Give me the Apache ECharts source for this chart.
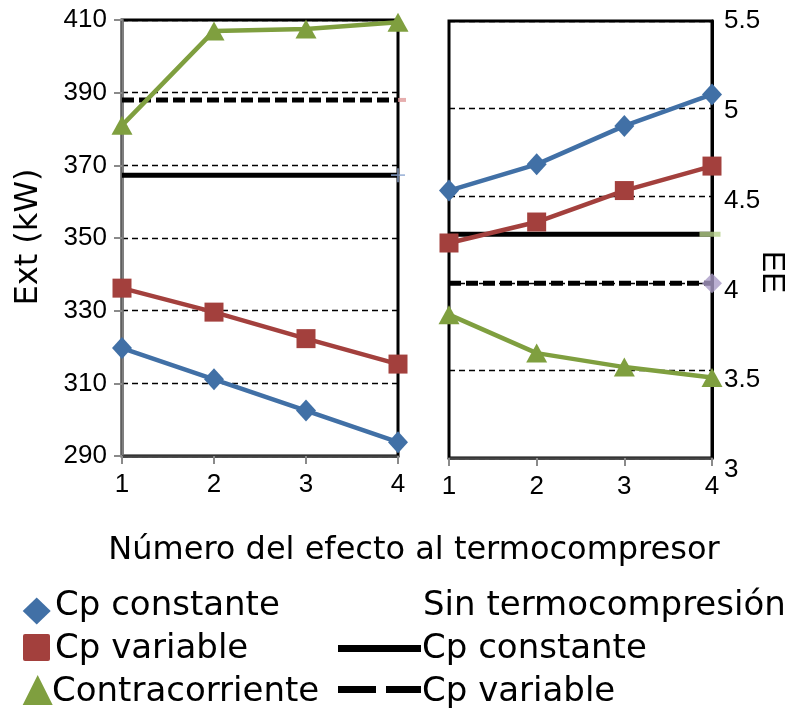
<!DOCTYPE html>
<html>
<head>
<meta charset="utf-8">
<script src="https://cdn.jsdelivr.net/npm/echarts@6/dist/echarts.min.js"></script>
<style>
html,body{margin:0;padding:0;background:#fff;}
#chart{width:803px;height:715px;}
</style>
</head>
<body>
<div id="chart"></div>
<script>
// ---- data ----
const categories = ['1', '2', '3', '4'];
const extTicks = [290, 310, 330, 350, 370, 390, 410];
const eeTicks = [3, 3.5, 4, 4.5, 5, 5.5];

const extCpConstante = [319.7, 311.1, 302.5, 293.8];
const extCpVariable = [336.2, 329.6, 322.3, 315.3];
const extContracorriente = [381, 407, 407.5, 409.4];
const extSinTermoCpConstante = [367.3, 367.3, 367.3, 367.3];
const extSinTermoCpVariable = [388, 388, 388, 388];

const eeCpConstante = [4.53, 4.68, 4.90, 5.08];
const eeCpVariable = [4.23, 4.35, 4.53, 4.67];
const eeContracorriente = [3.82, 3.60, 3.52, 3.46];
const eeSinTermoCpConstante = [4.28, 4.28, 4.28, 4.28];
const eeSinTermoCpVariable = [4.0, 4.0, 4.0, 4.0];

const seriesNames = ['Cp constante', 'Cp variable', 'Contracorriente'];
const refHeader = 'Sin termocompresión';
const refNames = ['Cp constante', 'Cp variable'];
const xTitle = 'Número del efecto al termocompresor';
const yLeftTitle = 'Ext (kW)';
const yRightTitle = 'EE';

// ---- styles ----
const BLUE = '#4170a6', RED = '#a3403d', GREEN = '#7f9f3f';
const tickFont = { fontFamily: 'Liberation Sans', fontSize: 26, color: '#000' };
const bigFont = '"DejaVu Sans"';

const chart = echarts.init(document.getElementById('chart'), null, { renderer: 'canvas' });

function xAxisCfg(gridIndex) {
  return {
    type: 'category', gridIndex, data: categories, boundaryGap: false,
    axisLine: { show: true, lineStyle: { color: '#444', width: 2.5 } },
    axisTick: { show: true, length: 8, lineStyle: { color: '#8a8a8a', width: 2 } },
    axisLabel: Object.assign({ margin: 16 }, tickFont),
    splitLine: { show: false }
  };
}
const dashedSplit = { show: true, lineStyle: { color: '#000', width: 1.3, type: [6, 4] } };

function dataSeries(name, xi, yi, data, color, symbol, size) {
  return {
    name, type: 'line', xAxisIndex: xi, yAxisIndex: yi, data,
    symbol, symbolSize: size, showSymbol: true, clip: false,
    lineStyle: { color, width: 4.5 }, itemStyle: { color }, z: 5
  };
}
function refSeries(name, xi, yi, data, dashed) {
  return {
    name, type: 'line', xAxisIndex: xi, yAxisIndex: yi, data,
    symbol: 'none', clip: false,
    lineStyle: { color: '#000', width: 5, type: dashed ? [12, 5] : 'solid' }, z: 3
  };
}

const option = {
  animation: false,
  backgroundColor: '#fff',
  grid: [
    { left: 122, top: 20, width: 276, height: 436, show: true, borderColor: '#000', borderWidth: 3, backgroundColor: 'transparent' },
    { left: 449, top: 21, width: 263, height: 437, show: true, borderColor: '#000', borderWidth: 3, backgroundColor: 'transparent' },
    // label-only grid for the right value labels (they sit on a slightly taller scale in the reference)
    { left: 449, top: 21, width: 263, height: 449, show: false }
  ],
  xAxis: [xAxisCfg(0), xAxisCfg(1),
    { type: 'category', gridIndex: 2, data: categories, show: false }],
  yAxis: [
    {
      type: 'value', gridIndex: 0, position: 'left',
      min: extTicks[0], max: extTicks[extTicks.length - 1], interval: extTicks[1] - extTicks[0],
      axisLine: { show: true, lineStyle: { color: '#7f7f7f', width: 2.5 } },
      axisTick: { show: true, length: 8, lineStyle: { color: '#8a8a8a', width: 2 } },
      axisLabel: Object.assign({ margin: 15 }, tickFont),
      splitLine: dashedSplit
    },
    {
      type: 'value', gridIndex: 1, position: 'right',
      min: eeTicks[0], max: eeTicks[eeTicks.length - 1], interval: eeTicks[1] - eeTicks[0],
      axisLine: { show: true, lineStyle: { color: '#000', width: 3 } },
      axisTick: { show: false },
      axisLabel: { show: false },
      splitLine: dashedSplit
    },
    {
      type: 'value', gridIndex: 2, position: 'right',
      min: eeTicks[0], max: eeTicks[eeTicks.length - 1], interval: eeTicks[1] - eeTicks[0],
      axisLine: { show: false }, axisTick: { show: false }, splitLine: { show: false },
      axisLabel: Object.assign({ margin: 12 }, tickFont)
    }
  ],
  series: [
    refSeries(refNames[0], 0, 0, extSinTermoCpConstante, false),
    refSeries(refNames[1], 0, 0, extSinTermoCpVariable, true),
    refSeries(refNames[0], 1, 1, eeSinTermoCpConstante, false),
    refSeries(refNames[1], 1, 1, eeSinTermoCpVariable, true),
    // end-of-line marker artifacts
    { type: 'scatter', xAxisIndex: 0, yAxisIndex: 0, data: [[categories[3], extSinTermoCpConstante[3]]],
      symbol: 'path://M4.4,0h1.2v10h-1.2zM0,4.4h10v1.2h-10z', symbolSize: 14, itemStyle: { color: '#8ea8d2' }, z: 6 },
    { type: 'scatter', xAxisIndex: 0, yAxisIndex: 0, data: [[categories[3], extSinTermoCpVariable[3]]],
      symbol: 'rect', symbolSize: [8, 4], symbolOffset: [4, 0], itemStyle: { color: '#e09a9a' }, z: 6 },
    { type: 'scatter', xAxisIndex: 1, yAxisIndex: 1, data: [[categories[3], eeSinTermoCpConstante[3]]],
      symbol: 'rect', symbolSize: [21, 5], symbolOffset: [-2, 0], itemStyle: { color: '#b5cf8a' }, z: 6 },
    { type: 'scatter', xAxisIndex: 1, yAxisIndex: 1, data: [[categories[3], eeSinTermoCpVariable[3]]],
      symbol: 'diamond', symbolSize: [20, 20], itemStyle: { color: '#a99bc6' }, z: 6 },
    // data series
    dataSeries(seriesNames[0], 0, 0, extCpConstante, BLUE, 'diamond', [20, 22]),
    dataSeries(seriesNames[1], 0, 0, extCpVariable, RED, 'rect', 19),
    dataSeries(seriesNames[2], 0, 0, extContracorriente, GREEN, 'triangle', [21, 19]),
    dataSeries(seriesNames[0], 1, 1, eeCpConstante, BLUE, 'diamond', [20, 22]),
    dataSeries(seriesNames[1], 1, 1, eeCpVariable, RED, 'rect', 19),
    dataSeries(seriesNames[2], 1, 1, eeContracorriente, GREEN, 'triangle', [21, 19])
  ],
  graphic: [
    { type: 'text', x: 29, y: 237, rotation: Math.PI / 2,
      style: { text: yLeftTitle, font: '32px ' + bigFont, fill: '#000', align: 'center', verticalAlign: 'middle' } },
    { type: 'text', x: 772, y: 272, rotation: -Math.PI / 2,
      style: { text: yRightTitle, font: '32px "Liberation Sans"', fill: '#000', align: 'center', verticalAlign: 'middle' } },
    { type: 'text', x: 414, y: 551,
      style: { text: xTitle, font: '32px ' + bigFont, fill: '#000', align: 'center', verticalAlign: 'middle' } },
    // legend left column
    { type: 'polygon', shape: { points: [[22.7, 611], [36.7, 597.5], [50.7, 611], [36.7, 624.5]] }, style: { fill: BLUE } },
    { type: 'rect', shape: { x: 23, y: 634, width: 27, height: 27, r: 2 }, style: { fill: RED } },
    { type: 'polygon', shape: { points: [[22.7, 705], [37.7, 675], [52.7, 705]] }, style: { fill: GREEN } },
    { type: 'text', x: 55, y: 606, style: { text: seriesNames[0], font: '34px ' + bigFont, fill: '#000', align: 'left', verticalAlign: 'middle' } },
    { type: 'text', x: 55, y: 649, style: { text: seriesNames[1], font: '34px ' + bigFont, fill: '#000', align: 'left', verticalAlign: 'middle' } },
    { type: 'text', x: 52, y: 692, style: { text: seriesNames[2], font: '34px ' + bigFont, fill: '#000', align: 'left', verticalAlign: 'middle' } },
    // legend right column
    { type: 'text', x: 423, y: 606, style: { text: refHeader, font: '34px ' + bigFont, fill: '#000', align: 'left', verticalAlign: 'middle' } },
    { type: 'rect', shape: { x: 338, y: 645, width: 83, height: 7 }, style: { fill: '#000' } },
    { type: 'text', x: 422, y: 649, style: { text: refNames[0], font: '34px ' + bigFont, fill: '#000', align: 'left', verticalAlign: 'middle' } },
    { type: 'rect', shape: { x: 338, y: 686, width: 38, height: 7 }, style: { fill: '#000' } },
    { type: 'rect', shape: { x: 386, y: 686, width: 35, height: 7 }, style: { fill: '#000' } },
    { type: 'text', x: 422, y: 692, style: { text: refNames[1], font: '34px ' + bigFont, fill: '#000', align: 'left', verticalAlign: 'middle' } }
  ]
};
chart.setOption(option);
</script>
</body>
</html>
